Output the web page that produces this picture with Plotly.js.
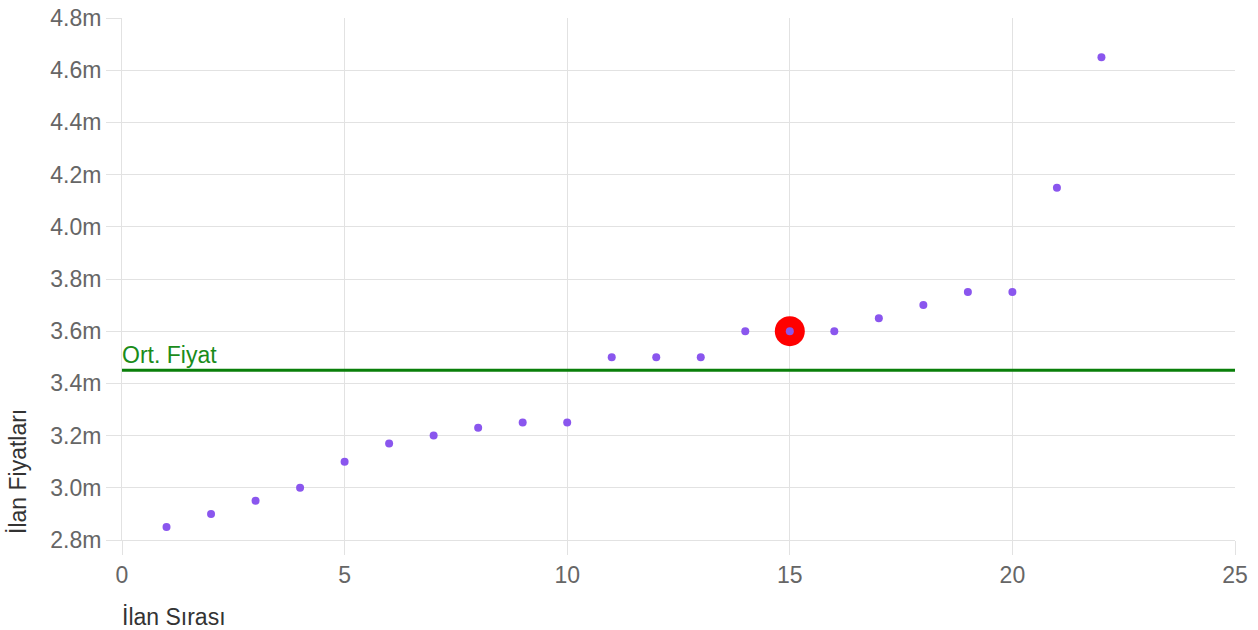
<!DOCTYPE html>
<html>
<head>
<meta charset="utf-8">
<script src="https://cdn.plot.ly/plotly-3.0.1.min.js"></script>
<style>html,body{margin:0;padding:0;background:#fff;}#chart{width:1258px;height:630px;}</style>
</head>
<body>
<div id="chart"></div>
<script>
const listingIndex = [1,2,3,4,5,6,7,8,9,10,11,12,13,14,15,16,17,18,19,20,21,22];
const listingPrices = [2.85,2.9,2.95,3.0,3.1,3.17,3.2,3.23,3.25,3.25,3.5,3.5,3.5,3.6,3.6,3.6,3.65,3.7,3.75,3.75,4.15,4.65];
const highlightIndex = [15];
const highlightPrice = [3.6];
const averagePrice = 3.45;
const averageLabel = "Ort. Fiyat";
const xTitle = "İlan Sırası";
const yTitle = "İlan Fiyatları";
const yTickVals = [2.8,3.0,3.2,3.4,3.6,3.8,4.0,4.2,4.4,4.6,4.8];
const yTickText = yTickVals.map(v => v.toFixed(1) + "m");
const xTickVals = [0,5,10,15,20,25];

const font = "Liberation Sans, Arial, sans-serif";
const fs = 23;
const traces = [
  {x: highlightIndex, y: highlightPrice, mode: "markers", type: "scatter",
   marker: {color: "#ff0000", size: 30}, hoverinfo: "skip"},
  {x: listingIndex, y: listingPrices, mode: "markers", type: "scatter",
   marker: {color: "#8a56ee", size: 8}}
];
const layout = {
  width: 1258, height: 630,
  margin: {l: 122, r: 23, t: 18, b: 90},
  paper_bgcolor: "#fff", plot_bgcolor: "#fff",
  showlegend: false,
  font: {family: font, size: fs, color: "#666"},
  xaxis: {range: [0, 25], tickvals: xTickVals, showgrid: true, gridcolor: "#e2e2e2",
    gridwidth: 1, zeroline: false, showline: true, linecolor: "#e2e2e2", linewidth: 1,
    ticks: "outside", ticklen: 14, tickcolor: "#e2e2e2", tickfont: {size: fs, color: "#666"}},
  yaxis: {range: [2.8, 4.8], tickvals: yTickVals, ticktext: yTickText, showgrid: true,
    gridcolor: "#e2e2e2", gridwidth: 1, zeroline: false, showline: true, linecolor: "#e2e2e2",
    linewidth: 1, ticks: "outside", ticklen: 15, tickcolor: "#e2e2e2", tickfont: {size: fs, color: "#666"}},
  shapes: [{type: "line", xref: "paper", x0: 0, x1: 1, yref: "y", y0: averagePrice, y1: averagePrice,
    line: {color: "#0a7f0a", width: 3}}],
  annotations: [
    {xref: "paper", x: 0, xshift: -2, yref: "y", y: averagePrice, text: averageLabel, showarrow: false,
     xanchor: "left", yanchor: "bottom", yshift: 0, font: {color: "#1a8c1a", size: fs, family: font}},
    {xref: "paper", x: 0, xshift: -2, yref: "paper", y: 0, yshift: -77, text: xTitle, showarrow: false,
     xanchor: "left", yanchor: "middle", font: {color: "#333", size: fs, family: font}},
    {xref: "paper", x: 0, xshift: -104, yref: "paper", y: 0, yshift: 68, text: yTitle, showarrow: false,
     textangle: -90, xanchor: "center", yanchor: "middle", font: {color: "#333", size: fs, family: font}}
  ]
};
Plotly.newPlot("chart", traces, layout, {displayModeBar: false, staticPlot: true});
</script>
</body>
</html>
